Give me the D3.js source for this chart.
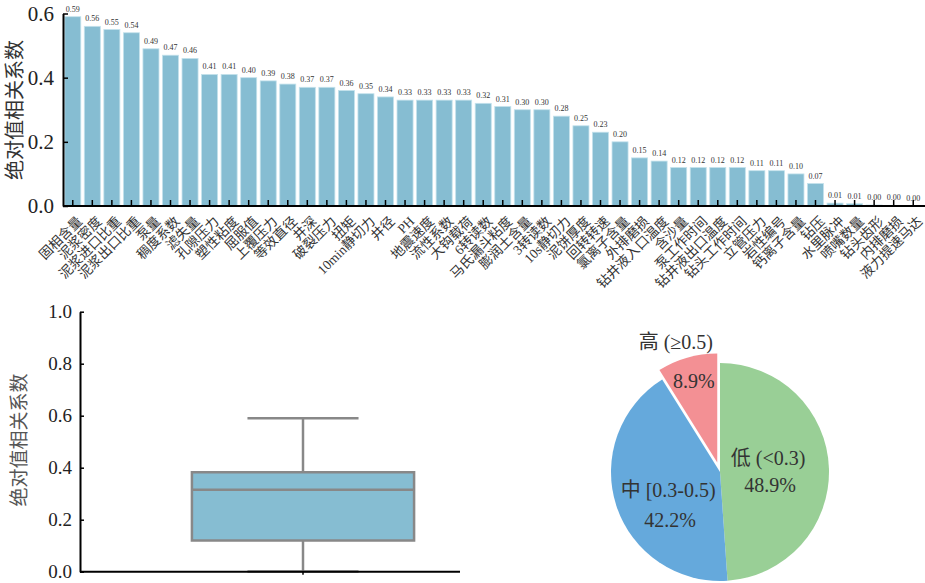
<!DOCTYPE html>
<html>
<head>
<meta charset="utf-8">
<script src="https://cdn.jsdelivr.net/npm/d3@7"></script>
<style>
body { margin: 0; background: #fff; }
</style>
</head>
<body>
<svg id="chart" width="925" height="583"></svg>
<script>
// feature names, ordered by |r|
var features = ["固相含量", "泥浆密度", "泥浆进口比重", "泥浆出口比重", "泵量", "稠度系数", "滤失量",
  "孔隙压力", "塑性粘度", "屈服值", "上覆压力", "等效直径", "井深", "破裂压力", "扭矩", "10min静切力",
  "井径", "PH", "地震速度", "流性系数", "大钩载荷", "6转读数", "马氏漏斗粘度", "膨润土含量", "3转读数",
  "10s静切力", "泥饼厚度", "回转转速", "氯离子含量", "外排磨损", "钻井液入口温度", "含沙量", "泵工作时间",
  "钻井液出口温度", "钻头工作时间", "立管压力", "岩性编号", "钙离子含量", "钻压", "水里脉冲", "喷嘴数量",
  "钻头齿形", "内排磨损", "液力提速马达"];

var corrValues = [0.59, 0.56, 0.55, 0.54, 0.49, 0.47, 0.46, 0.41, 0.41, 0.40, 0.39, 0.38, 0.37, 0.37,
  0.36, 0.35, 0.34, 0.33, 0.33, 0.33, 0.33, 0.32, 0.31, 0.30, 0.30, 0.28, 0.25, 0.23, 0.20, 0.15, 0.14,
  0.12, 0.12, 0.12, 0.12, 0.11, 0.11, 0.10, 0.07, 0.009, 0.007, 0.003, 0.002, 0.001];

var yTicksTop = [0, 0.2, 0.4, 0.6];
var yTicksBox = [0, 0.2, 0.4, 0.6, 0.8, 1.0];

// pie groups
var pieNames = ["低 (<0.3)", "中 [0.3-0.5)", "高 (≥0.5)"];
var piePercents = [48.9, 42.2, 8.9];
var pieColors = ["#99cf96", "#65a9dc", "#f39094"];

var yTitle = "绝对值相关系数";
var barColor = "#86bdd2";
var serif = "'Liberation Serif', 'Times New Roman', 'Noto Sans CJK SC', serif";
var sans = "'Noto Sans CJK SC', sans-serif";

var svg = d3.select("#chart");

//---------- top bar chart ----------
var x = d3.scaleBand()
    .domain(features)
    .range([63, 923])
    .paddingInner(0.18)
    .paddingOuter(0.09);

var y = d3.scaleLinear()
    .domain([0, 0.6])
    .range([206, 13.5]);

var barG = svg.append("g");

barG.selectAll("rect.bar")
    .data(corrValues)
    .enter()
  .append("rect")
    .attr("class", "bar")
    .attr("x", function(d, i) { return x(features[i]); })
    .attr("y", function(d) { return y(d); })
    .attr("width", x.bandwidth())
    .attr("height", function(d) { return y(0) - y(d); })
    .attr("fill", barColor)
    .attr("stroke", "#c4e2ec")
    .attr("stroke-width", 0.8);

//value labels
barG.selectAll("text.val")
    .data(corrValues)
    .enter()
  .append("text")
    .attr("class", "val")
    .attr("x", function(d, i) { return x(features[i]) + x.bandwidth() / 2; })
    .attr("y", function(d) { return y(d) - 5; })
    .attr("text-anchor", "middle")
    .attr("font-family", serif)
    .attr("font-size", 8)
    .attr("fill", "#333")
    .text(function(d) { return d.toFixed(2); });

//x axis
var xAxis = barG.append("g")
    .attr("transform", "translate(0," + y(0) + ")")
    .call(d3.axisBottom(x).tickSizeInner(-6).tickSizeOuter(0))
    .attr("font-family", serif);

xAxis.select(".domain").attr("stroke-width", 2).attr("d", "M63,0H925");
xAxis.selectAll(".tick line").attr("stroke-width", 1.5);
xAxis.selectAll(".tick text")
    .attr("y", null)
    .attr("dy", "0.75em")
    .attr("text-anchor", "end")
    .attr("transform", "translate(3,9) rotate(-45)")
    .attr("font-family", serif)
    .attr("font-size", 13.5)
    .attr("fill", "#333");

//y axis
var yAxis = barG.append("g")
    .attr("transform", "translate(63,0)")
    .call(d3.axisLeft(y).tickValues(yTicksTop).tickFormat(d3.format(".1f"))
      .tickSizeInner(-5).tickSizeOuter(0).tickPadding(9))
    .attr("font-family", serif);

yAxis.select(".domain").attr("stroke-width", 2);
yAxis.selectAll(".tick line").attr("stroke-width", 1.5);
yAxis.selectAll(".tick text").attr("font-family", serif).attr("font-size", 21).attr("fill", "#222");

barG.append("text")
    .attr("transform", "translate(22,110) rotate(-90)")
    .attr("text-anchor", "middle")
    .attr("font-family", sans)
    .attr("font-size", 20)
    .attr("fill", "#333")
    .text(yTitle);

//---------- box plot ----------
var sorted = corrValues.slice().sort(d3.ascending);
var q1 = d3.quantile(sorted, 0.25);
var med = d3.quantile(sorted, 0.5);
var q3 = d3.quantile(sorted, 0.75);
var iqr = q3 - q1;
var lo = d3.min(sorted.filter(function(v) { return v >= q1 - 1.5 * iqr; }));
var hi = d3.max(sorted.filter(function(v) { return v <= q3 + 1.5 * iqr; }));

var yb = d3.scaleLinear()
    .domain([0, 1])
    .range([571.7, 311.7]);

var xb = d3.scaleBand()
    .domain([yTitle])
    .range([80, 526])
    .paddingInner(0.335)
    .paddingOuter(0.335);

var box = svg.append("g");
var bx = xb(yTitle), bw = xb.bandwidth(), cx = bx + bw / 2;
var boxStroke = "#888";

//whiskers
box.selectAll("line.whisker")
    .data([[q3, hi], [q1, lo]])
    .enter()
  .append("line")
    .attr("class", "whisker")
    .attr("x1", cx).attr("x2", cx)
    .attr("y1", function(d) { return yb(d[0]); })
    .attr("y2", function(d) { return yb(d[1]); })
    .attr("stroke", boxStroke)
    .attr("stroke-width", 2.5);

box.selectAll("line.cap")
    .data([hi, lo])
    .enter()
  .append("line")
    .attr("class", "cap")
    .attr("x1", cx - bw / 4).attr("x2", cx + bw / 4)
    .attr("y1", function(d) { return yb(d); })
    .attr("y2", function(d) { return yb(d); })
    .attr("stroke", boxStroke)
    .attr("stroke-width", 2.5);

box.append("rect")
    .attr("x", bx)
    .attr("y", yb(q3))
    .attr("width", bw)
    .attr("height", yb(q1) - yb(q3))
    .attr("fill", barColor)
    .attr("stroke", boxStroke)
    .attr("stroke-width", 2.5);

box.append("line")
    .attr("x1", bx).attr("x2", bx + bw)
    .attr("y1", yb(med)).attr("y2", yb(med))
    .attr("stroke", boxStroke)
    .attr("stroke-width", 2.5);

//axes
var ybAxis = box.append("g")
    .attr("transform", "translate(80,0)")
    .call(d3.axisLeft(yb).tickValues(yTicksBox).tickFormat(d3.format(".1f"))
      .tickSizeInner(-4).tickSizeOuter(0).tickPadding(8))
    .attr("font-family", serif);
ybAxis.select(".domain").attr("stroke-width", 2);
ybAxis.selectAll(".tick line").attr("stroke-width", 1.5);
ybAxis.selectAll(".tick text").attr("font-family", serif).attr("font-size", 19).attr("fill", "#222");

box.append("line")
    .attr("x1", 80).attr("x2", 460)
    .attr("y1", yb(0)).attr("y2", yb(0))
    .attr("stroke", "#000")
    .attr("stroke-width", 2);

box.append("line")
    .attr("x1", cx).attr("x2", cx)
    .attr("y1", yb(0)).attr("y2", yb(0) + 3)
    .attr("stroke", "#000")
    .attr("stroke-width", 1.5);

box.append("text")
    .attr("transform", "translate(26,440) rotate(-90)")
    .attr("text-anchor", "middle")
    .attr("font-family", sans)
    .attr("font-size", 19)
    .attr("fill", "#555")
    .text(yTitle);

//---------- pie ----------
var radius = 109;
var pie = d3.pie().sort(null).value(function(d) { return d; });
var arcs = pie(piePercents);
var arc = d3.arc().innerRadius(0).outerRadius(radius);
var explode = [0, 0, 10];

var pieG = svg.append("g").attr("transform", "translate(720,472)");

function shift(d, k) {
  var a = (d.startAngle + d.endAngle) / 2;
  return [Math.sin(a) * k, -Math.cos(a) * k];
}

pieG.selectAll("path")
    .data(arcs)
    .enter()
  .append("path")
    .attr("d", arc)
    .attr("fill", function(d, i) { return pieColors[i]; })
    .attr("transform", function(d, i) {
      var s = shift(d, explode[i]);
      return "translate(" + s[0] + "," + s[1] + ")";
    });

// label placement: radius factor, then [dx, name dy, pct dy]
var labelRadius = [0.46, 0.5, 0.78];
var labelNudge = [[0, -12, 15], [2, 1, 31], [0, -39, 0]];
var nameShift = [-2, -2, -18];

arcs.forEach(function(d, i) {
  var p = shift(d, labelRadius[i] * radius + explode[i]);
  var nx = p[0] + labelNudge[i][0];
  pieG.append("text")
      .attr("x", nx + nameShift[i])
      .attr("y", p[1] + labelNudge[i][1])
      .attr("dy", "0.35em")
      .attr("text-anchor", "middle")
      .attr("font-family", serif)
      .attr("font-size", 20)
      .attr("fill", "#333")
      .text(pieNames[i]);
  pieG.append("text")
      .attr("x", nx)
      .attr("y", p[1] + labelNudge[i][2])
      .attr("dy", "0.35em")
      .attr("text-anchor", "middle")
      .attr("font-family", serif)
      .attr("font-size", 20)
      .attr("fill", "#333")
      .text(piePercents[i].toFixed(1) + "%");
});
</script>
</body>
</html>
